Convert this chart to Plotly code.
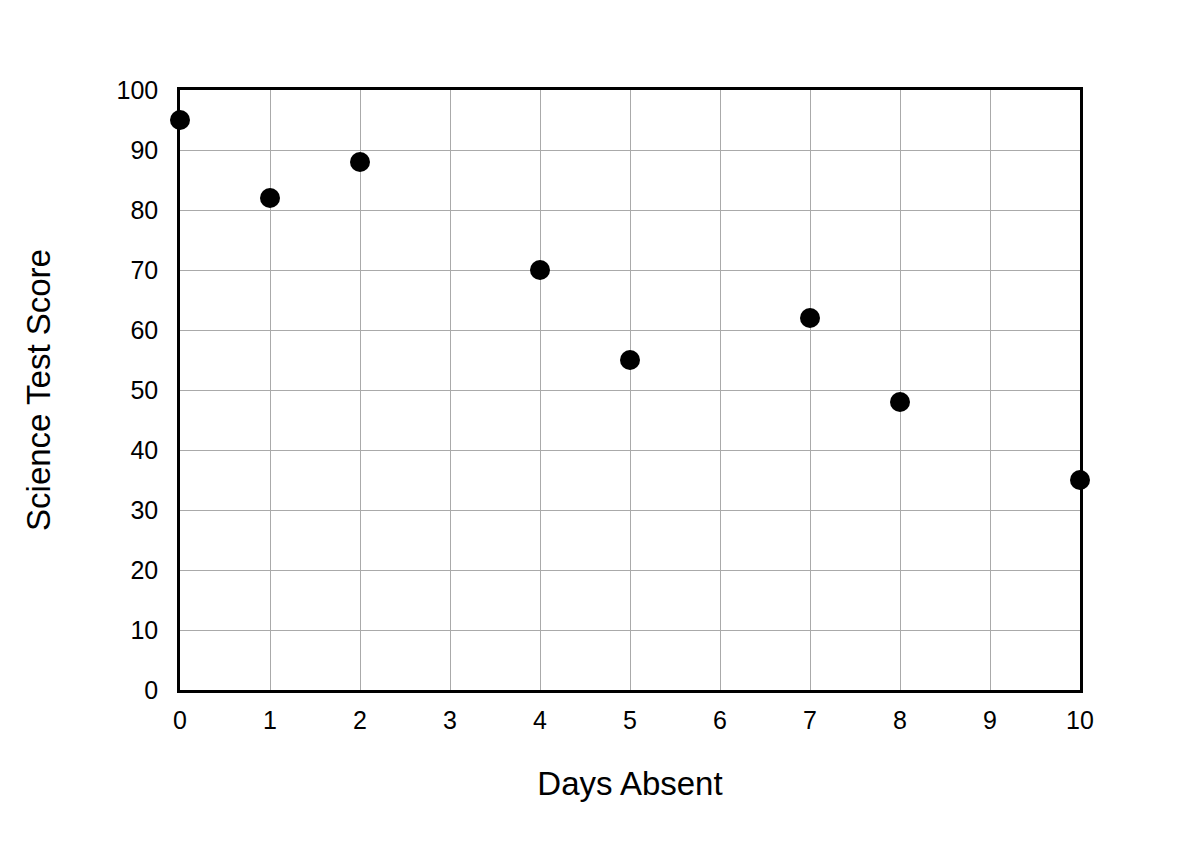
import plotly.graph_objects as go

days_absent = [0, 1, 2, 4, 5, 7, 8, 10]
test_scores = [95, 82, 88, 70, 55, 62, 48, 35]

x_ticks = list(range(0, 11))
y_ticks = list(range(0, 101, 10))

FONT = "Liberation Sans, Arial, sans-serif"

fig = go.Figure()

fig.add_trace(go.Scatter(
    x=days_absent,
    y=test_scores,
    mode="markers",
    marker=dict(color="#000000", size=20),
    cliponaxis=False,
    showlegend=False,
))

axis_common = dict(
    showline=True,
    linecolor="#000000",
    linewidth=2.5,
    mirror=True,
    showgrid=True,
    gridcolor="#aaaaaa",
    gridwidth=1.3,
    zeroline=False,
    ticks="",
    tickfont=dict(family=FONT, size=25, color="#000000"),
)

# page body has an 8px margin, so the margins are shifted to compensate
fig.update_layout(
    width=1200,
    height=850,
    paper_bgcolor="#ffffff",
    plot_bgcolor="#ffffff",
    margin=dict(l=172, r=128, t=82, b=168),
    xaxis=dict(
        axis_common,
        range=[0, 10],
        tickvals=x_ticks,
        ticklabelstandoff=6,
        title=dict(text="Days Absent", standoff=40,
                   font=dict(family=FONT, size=33, color="#000000")),
    ),
    yaxis=dict(
        axis_common,
        range=[0, 100],
        tickvals=y_ticks,
        ticklabelstandoff=14,
        title=dict(text="Science Test Score", standoff=56,
                   font=dict(family=FONT, size=33, color="#000000")),
    ),
)

fig.write_html("out.html")
